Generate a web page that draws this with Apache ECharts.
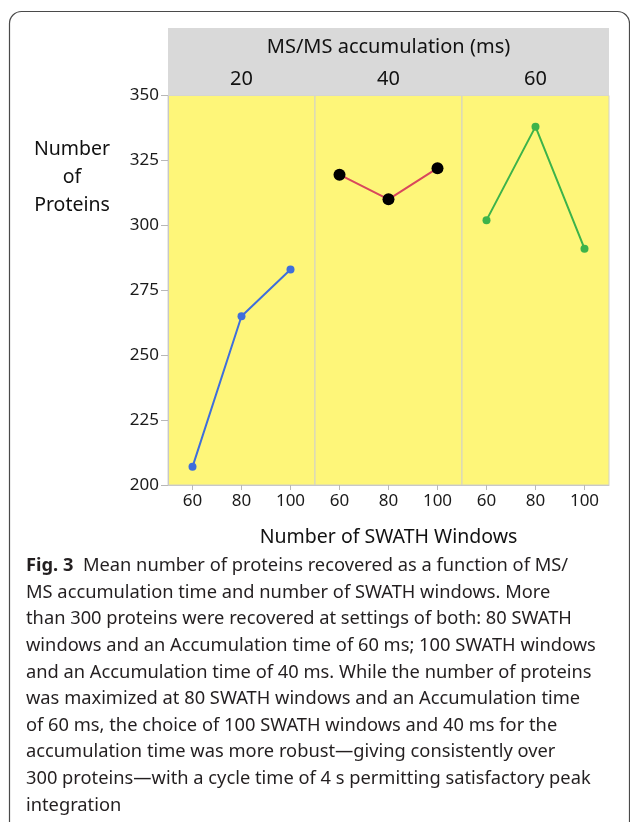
<!DOCTYPE html>
<html>
<head>
<meta charset="utf-8">
<script src="https://cdn.jsdelivr.net/npm/echarts@6/dist/echarts.min.js"></script>
<style>
html,body{margin:0;padding:0;background:#fff;}
#c{width:630px;height:822px;}
</style>
</head>
<body>
<div id="c"></div>
<script>
// ---- data ----
var accumTimes = ['20', '40', '60'];           // MS/MS accumulation (ms) panels
var swathWindows = [60, 80, 100];               // x tick values
var proteins20 = [207, 265, 283];
var proteins40 = [319.5, 310, 322];
var proteins60 = [302, 338, 291];
var yTicks = [200, 225, 250, 275, 300, 325, 350];
var captionLines = [
  'Mean number of proteins recovered as a function of MS/',
  'MS accumulation time and number of SWATH windows. More',
  'than 300 proteins were recovered at settings of both: 80 SWATH',
  'windows and an Accumulation time of 60 ms; 100 SWATH windows',
  'and an Accumulation time of 40 ms. While the number of proteins',
  'was maximized at 80 SWATH windows and an Accumulation time',
  'of 60 ms, the choice of 100 SWATH windows and 40 ms for the',
  'accumulation time was more robust\u2014giving consistently over',
  '300 proteins\u2014with a cycle time of 4 s permitting satisfactory peak',
  'integration'
];

// ---- layout ----
var FONT = '"Noto Sans", "Open Sans", sans-serif';
var plotLeft = 168, panelW = 147, plotTop = 95.5, plotH = 389.5;
var seriesData = [proteins20, proteins40, proteins60];
var lineColors = ['#3F6FDB', '#D9475C', '#3DB34A'];
var symColors = ['#3F6FDB', '#000000', '#3DB34A'];
var symSizes = [8, 12, 8];

var grids = [], xAxes = [], yAxes = [], series = [];
for (var i = 0; i < 3; i++) {
  grids.push({
    left: plotLeft + i * panelW, top: plotTop, width: panelW, height: plotH,
    show: true, backgroundColor: '#FEF679', borderColor: '#D2D2C8', borderWidth: 1
  });
  xAxes.push({
    type: 'value', gridIndex: i, min: 50, max: 110,
    axisLine: { show: true, lineStyle: { color: '#C8C8C8' } },
    axisTick: { show: true, length: 5, customValues: swathWindows, lineStyle: { color: '#B8B8B8' } },
    axisLabel: { customValues: swathWindows, fontSize: 17, fontFamily: FONT, color: '#1a1a1a', margin: 8 },
    splitLine: { show: false }
  });
  yAxes.push({
    type: 'value', gridIndex: i, min: yTicks[0], max: yTicks[yTicks.length - 1], interval: 25,
    show: i === 0,
    axisLine: { show: true, lineStyle: { color: '#C8C8C8' } },
    axisTick: { show: true, length: 7, lineStyle: { color: '#B8B8B8' } },
    axisLabel: { fontSize: 17, fontFamily: FONT, color: '#1a1a1a', margin: 9 },
    splitLine: { show: false }
  });
  series.push({
    type: 'line', xAxisIndex: i, yAxisIndex: i,
    data: swathWindows.map(function (x, k) { return [x, seriesData[i][k]]; }),
    symbol: 'circle', symbolSize: symSizes[i],
    lineStyle: { color: lineColors[i], width: 2 },
    itemStyle: { color: symColors[i] },
    z: 3
  });
}

var graphics = [
  // outer frame
  { type: 'rect', shape: { x: 9.5, y: 11.5, width: 620, height: 900, r: 12 },
    style: { fill: 'none', stroke: '#4a4a4a', lineWidth: 1.2 }, z: 1 },
  // header strip
  { type: 'rect', shape: { x: plotLeft, y: 28, width: panelW * 3, height: plotTop - 28 },
    style: { fill: '#D9D9D9' }, z: 1 },
  { type: 'text', x: plotLeft + panelW * 1.5, y: 47,
    style: { text: 'MS/MS accumulation (ms)', font: '20px ' + FONT, fill: '#111', align: 'center', verticalAlign: 'middle' }, z: 2 },
  // y-axis title
  { type: 'text', x: 72, y: 177,
    style: { text: 'Number\nof\nProteins', font: '19.5px ' + FONT, fill: '#111', align: 'center', verticalAlign: 'middle', lineHeight: 28 }, z: 2 },
  // x-axis title
  { type: 'text', x: plotLeft + panelW * 1.5, y: 537,
    style: { text: 'Number of SWATH Windows', font: '19.5px ' + FONT, fill: '#111', align: 'center', verticalAlign: 'middle' }, z: 2 }
];
accumTimes.forEach(function (t, i) {
  graphics.push({ type: 'text', x: plotLeft + panelW * (i + 0.5), y: 79,
    style: { text: t, font: '20px ' + FONT, fill: '#111', align: 'center', verticalAlign: 'middle' }, z: 2 });
});
captionLines.forEach(function (line, k) {
  var y = 566 + k * 26.6;
  if (k === 0) {
    graphics.push({ type: 'text', x: 26, y: y,
      style: { text: '{b|Fig. 3}  ' + line, font: '18.3px ' + FONT, fill: '#231F20', verticalAlign: 'middle',
        rich: { b: { fontWeight: 'bold', fontSize: 18.3, fontFamily: FONT, fill: '#231F20' } } }, z: 2 });
  } else {
    graphics.push({ type: 'text', x: 26, y: y,
      style: { text: line, font: '18.3px ' + FONT, fill: '#231F20', verticalAlign: 'middle' }, z: 2 });
  }
});

var chart = echarts.init(document.getElementById('c'), null, { renderer: 'canvas' });
chart.setOption({
  animation: false,
  backgroundColor: '#ffffff',
  grid: grids, xAxis: xAxes, yAxis: yAxes, series: series,
  graphic: { elements: graphics }
});
</script>
</body>
</html>
